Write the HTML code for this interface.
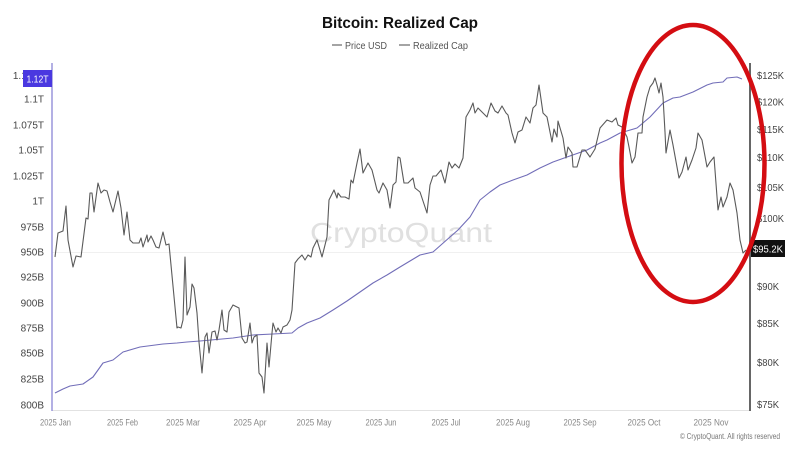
<!DOCTYPE html>
<html><head><meta charset="utf-8"><style>
html,body{margin:0;padding:0;background:#fff;}
svg{display:block;font-family:"Liberation Sans",Arial,sans-serif;}
</style></head><body>
<svg width="800" height="450" viewBox="0 0 800 450" xmlns="http://www.w3.org/2000/svg">
<rect width="800" height="450" fill="#fff"/>
<!-- title -->
<text x="400" y="28" text-anchor="middle" font-size="16" font-weight="bold" fill="#111" textLength="156" lengthAdjust="spacingAndGlyphs">Bitcoin: Realized Cap</text>
<!-- legend -->
<line x1="332" y1="45" x2="342" y2="45" stroke="#666" stroke-width="1.2"/>
<text x="345" y="49" font-size="10.5" fill="#555" textLength="42" lengthAdjust="spacingAndGlyphs">Price USD</text>
<line x1="399" y1="45" x2="410" y2="45" stroke="#666" stroke-width="1.2"/>
<text x="413" y="49" font-size="10.5" fill="#555" textLength="55" lengthAdjust="spacingAndGlyphs">Realized Cap</text>

<!-- watermark -->
<text x="310" y="242" font-size="28" fill="#e0e0e0" textLength="182" lengthAdjust="spacingAndGlyphs">CryptoQuant</text>

<!-- crosshair -->
<line x1="52" y1="252.5" x2="750" y2="252.5" stroke="#f0f0f0" stroke-width="1"/>
<!-- bottom axis -->
<line x1="52" y1="410.5" x2="750" y2="410.5" stroke="#e2e2e2" stroke-width="1"/>
<!-- left axis -->
<line x1="52" y1="63" x2="52" y2="411" stroke="#8a85d6" stroke-width="1.3"/>
<!-- right axis -->
<line x1="750" y1="63" x2="750" y2="411" stroke="#666" stroke-width="2"/>

<!-- left labels -->
<g font-size="10" fill="#444" text-anchor="end">
<text x="44" y="79">1.125T</text>
<text x="44" y="102.5">1.1T</text>
<text x="44" y="128.5">1.075T</text>
<text x="44" y="153.5">1.05T</text>
<text x="44" y="179.5">1.025T</text>
<text x="44" y="204.5">1T</text>
<text x="44" y="230.5">975B</text>
<text x="44" y="255.5">950B</text>
<text x="44" y="280.5">925B</text>
<text x="44" y="306.5">900B</text>
<text x="44" y="331.5">875B</text>
<text x="44" y="356.5">850B</text>
<text x="44" y="382.5">825B</text>
<text x="44" y="408.5">800B</text>
</g>
<rect x="23" y="70" width="29" height="17" fill="#4a38e0"/>
<text x="26.5" y="82.5" font-size="10.5" fill="#fff" textLength="22" lengthAdjust="spacingAndGlyphs">1.12T</text>

<!-- right labels -->
<g font-size="10.5" fill="#444">
<text x="757" y="79" textLength="27" lengthAdjust="spacingAndGlyphs">$125K</text>
<text x="757" y="105.5" textLength="27" lengthAdjust="spacingAndGlyphs">$120K</text>
<text x="757" y="133" textLength="27" lengthAdjust="spacingAndGlyphs">$115K</text>
<text x="757" y="161" textLength="27" lengthAdjust="spacingAndGlyphs">$110K</text>
<text x="757" y="191" textLength="27" lengthAdjust="spacingAndGlyphs">$105K</text>
<text x="757" y="222" textLength="27" lengthAdjust="spacingAndGlyphs">$100K</text>
<text x="757" y="290" textLength="22" lengthAdjust="spacingAndGlyphs">$90K</text>
<text x="757" y="327" textLength="22" lengthAdjust="spacingAndGlyphs">$85K</text>
<text x="757" y="366" textLength="22" lengthAdjust="spacingAndGlyphs">$80K</text>
<text x="757" y="408" textLength="22" lengthAdjust="spacingAndGlyphs">$75K</text>
</g>
<rect x="751" y="240" width="34" height="17" fill="#111"/>
<text x="753" y="252.5" font-size="10.5" fill="#fff" textLength="30" lengthAdjust="spacingAndGlyphs">$95.2K</text>

<!-- x labels -->
<g font-size="9" fill="#888" text-anchor="middle">
<text x="55.5" y="425.5" textLength="31" lengthAdjust="spacingAndGlyphs">2025 Jan</text>
<text x="122.5" y="425.5" textLength="31" lengthAdjust="spacingAndGlyphs">2025 Feb</text>
<text x="183" y="425.5" textLength="34" lengthAdjust="spacingAndGlyphs">2025 Mar</text>
<text x="250" y="425.5" textLength="33" lengthAdjust="spacingAndGlyphs">2025 Apr</text>
<text x="314" y="425.5" textLength="35" lengthAdjust="spacingAndGlyphs">2025 May</text>
<text x="381" y="425.5" textLength="31" lengthAdjust="spacingAndGlyphs">2025 Jun</text>
<text x="446" y="425.5" textLength="29" lengthAdjust="spacingAndGlyphs">2025 Jul</text>
<text x="513" y="425.5" textLength="34" lengthAdjust="spacingAndGlyphs">2025 Aug</text>
<text x="580" y="425.5" textLength="33" lengthAdjust="spacingAndGlyphs">2025 Sep</text>
<text x="644" y="425.5" textLength="33" lengthAdjust="spacingAndGlyphs">2025 Oct</text>
<text x="711" y="425.5" textLength="35" lengthAdjust="spacingAndGlyphs">2025 Nov</text>
</g>
<text x="680" y="439" font-size="8" fill="#777" textLength="100" lengthAdjust="spacingAndGlyphs">© CryptoQuant. All rights reserved</text>

<!-- realized cap -->
<polyline fill="none" stroke="#716db8" stroke-width="1.1" stroke-linejoin="round" points="55,393 63,389 70,386 83,384 93,377 103,363 113,360 123,352 140,347 163,344 177,343 187,342 200,341 233,338 253,335 273,334 292,333 298,328 307,323 320,318 333,310 347,301 360,292 373,283 387,275 400,267 420,255 433,252 450,237 458,230 470,217 480,200 490,192 500,185 513,180 527,175 540,168 553,162 567,157 587,150 600,143 607,140 620,133 637,128 650,117 663,103 673,98 680,97 693,92 707,85 713,83 723,82 727,78 737,77 742,79"/>

<!-- price -->
<polyline fill="none" stroke="#5a5a5a" stroke-width="1.1" stroke-linejoin="round" points="55,257 58,233 63,231 66,206 68,240 73,267 76,256 81,257 86,218 88,219 90,193 92,193 94,212 98,183 101,193 104,190 107,191 110,202 113,212 118,191 121,208 124,235 127,212 130,240 133,243 139,243 141,238 143,247 147,235 148,242 151,236 153,240 156,247 159,248 163,232 166,245 169,244 177,328 178,327 181,328 183,320 185,257 187,315 190,307 192,284 194,288 197,313 199,342 202,373 205,337 207,333 209,353 212,332 215,331 217,340 219,330 222,310 224,330 227,332 229,312 233,305 237,307 239,308 242,338 245,343 247,342 250,323 252,343 254,337 257,335 259,373 262,377 264,393 267,343 269,367 272,333 273,323 276,332 278,328 281,333 283,327 287,325 290,320 292,310 295,263 298,259 302,255 305,260 308,255 311,257 313,248 317,240 320,250 322,257 325,245 327,237 329,200 334,190 337,198 338,193 341,197 345,197 349,199 351,180 353,183 357,163 360,149 363,173 368,163 372,170 377,190 379,193 383,183 387,190 390,208 393,185 396,182 398,157 400,158 404,183 408,183 413,178 415,188 420,192 427,213 430,185 433,176 436,176 441,170 445,183 449,162 452,168 455,164 459,168 463,158 466,117 470,110 473,103 475,113 478,108 483,113 487,117 491,103 495,111 498,113 502,106 506,113 508,115 512,133 515,143 518,132 522,130 526,117 530,123 533,108 536,105 539,85 543,113 547,117 552,142 554,129 557,137 558,121 563,138 566,158 568,147 572,153 573,167 577,167 582,150 585,150 590,157 595,149 600,128 607,120 612,122 616,118 618,125 622,127 627,137 629,147 632,163 635,157 638,133 642,133 643,117 647,97 650,87 653,83 655,78 657,85 659,93 661,83 663,97 665,132 666,153 670,130 673,145 679,178 682,172 686,157 688,170 692,160 696,148 698,133 702,140 707,167 710,162 714,157 718,210 721,197 723,207 727,197 730,183 733,190 737,213 740,240 743,253 746,250"/>

<!-- red ellipse annotation -->
<ellipse cx="693" cy="163.5" rx="71.5" ry="138.5" fill="none" stroke="#d40d12" stroke-width="4.5"/>
</svg>
</body></html>
